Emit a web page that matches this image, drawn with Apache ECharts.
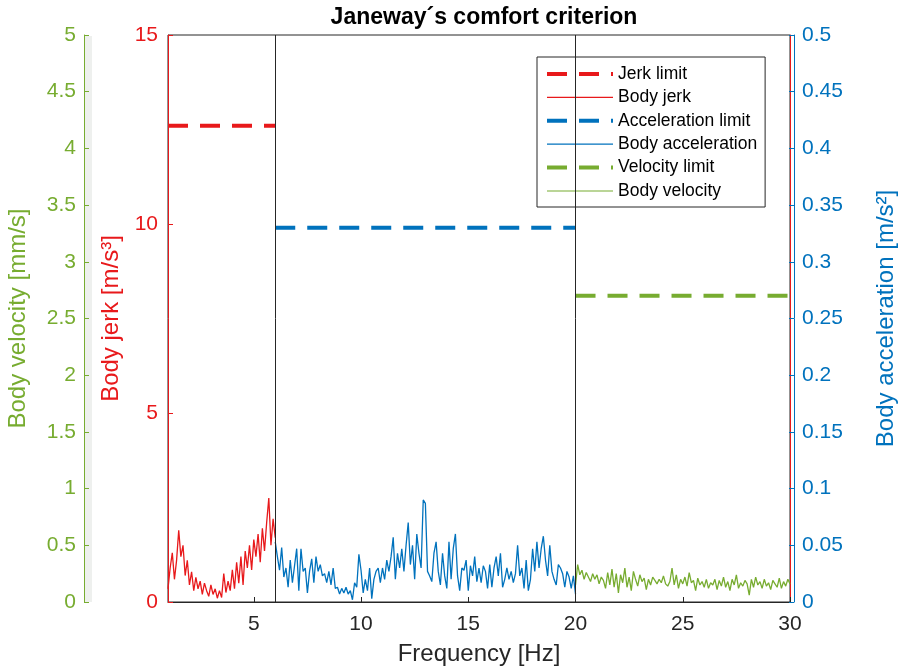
<!DOCTYPE html>
<html>
<head>
<meta charset="utf-8">
<title>Janeway's comfort criterion</title>
<script src="https://cdn.jsdelivr.net/npm/echarts@6/dist/echarts.min.js"></script>
<style>
  html, body { margin: 0; padding: 0; background: #fff; }
  #chart { width: 902px; height: 671px; }
</style>
</head>
<body>
<div id="chart"></div>
<script>
// Janeway comfort criterion: measured body response vs. limits per frequency band
const FONT = '"Liberation Sans", Arial, Helvetica, sans-serif';

// frequency bands [Hz] and sampling step
const jerkBand = [1, 6];
const accBand = [6, 20];
const velBand = [20, 30];
const freqStep = 0.1;

// limits
const jerkLimit = 12.6;   // m/s^3, 1-6 Hz
const accLimit = 0.33;    // m/s^2, 6-20 Hz
const velLimit = 2.7;     // mm/s, 20-60 Hz

// body jerk [m/s^3], 1.0 ... 6.0 Hz
const bodyJerk = [
  0.35, 0.9, 1.3, 0.6, 1.1, 1.9, 1.2, 1.5, 0.7, 1.1,
  0.45, 0.8, 0.3, 0.65, 0.35, 0.55, 0.2, 0.5, 0.3, 0.15,
  0.45, 0.2, 0.35, 0.1, 0.3, 0.12, 0.75, 0.25, 0.55, 0.3,
  0.85, 0.35, 1.05, 0.5, 1.2, 0.45, 1.35, 0.9, 1.5, 0.85,
  1.65, 1.2, 1.8, 1.05, 1.95, 1.35, 2.1, 2.75, 1.5, 2.2,
  1.7
];

// body acceleration [m/s^2], 6.0 ... 20.0 Hz
const bodyAcc = [
  0.053, 0.040, 0.028, 0.048, 0.022, 0.030, 0.013, 0.037, 0.017, 0.032,
  0.047, 0.010, 0.047, 0.027, 0.030, 0.008, 0.027, 0.038, 0.017, 0.040,
  0.027, 0.033, 0.023, 0.025, 0.017, 0.027, 0.015, 0.030, 0.012, 0.013,
  0.007, 0.012, 0.008, 0.013, 0.007, 0.010, 0.002, 0.017, 0.013, 0.042,
  0.028, 0.008, 0.020, 0.010, 0.030, 0.003, 0.020, 0.027, 0.030, 0.017,
  0.030, 0.020, 0.037, 0.027, 0.040, 0.057, 0.020, 0.043, 0.030, 0.047,
  0.027, 0.050, 0.070, 0.033, 0.050, 0.020, 0.060, 0.043, 0.030, 0.090,
  0.087, 0.027, 0.023, 0.018, 0.043, 0.053, 0.027, 0.015, 0.043, 0.023,
  0.012, 0.053, 0.020, 0.047, 0.060, 0.023, 0.010, 0.030, 0.028, 0.037,
  0.010, 0.032, 0.023, 0.040, 0.018, 0.030, 0.017, 0.032, 0.027, 0.012,
  0.033, 0.013, 0.030, 0.040, 0.023, 0.043, 0.013, 0.020, 0.030, 0.020,
  0.027, 0.017, 0.025, 0.050, 0.023, 0.030, 0.012, 0.037, 0.010, 0.020,
  0.047, 0.027, 0.053, 0.030, 0.047, 0.058, 0.037, 0.023, 0.050, 0.027,
  0.020, 0.015, 0.033, 0.030, 0.025, 0.013, 0.027, 0.022, 0.012, 0.023,
  0.007
];

// body velocity [mm/s], 20.0 ... 30.0 Hz
const bodyVel = [
  0.15, 0.33, 0.24, 0.28, 0.20, 0.26, 0.22, 0.18, 0.25, 0.20,
  0.24, 0.16, 0.22, 0.19, 0.12, 0.26, 0.15, 0.29, 0.13, 0.25,
  0.08, 0.24, 0.17, 0.30, 0.13, 0.22, 0.10, 0.27, 0.20, 0.14,
  0.24, 0.18, 0.21, 0.11, 0.20, 0.15, 0.22, 0.19, 0.16, 0.20,
  0.17, 0.23, 0.16, 0.14, 0.18, 0.30, 0.15, 0.24, 0.12, 0.20,
  0.16, 0.22, 0.14, 0.26, 0.17, 0.19, 0.10, 0.21, 0.15, 0.18,
  0.13, 0.20, 0.12, 0.17, 0.15, 0.20, 0.11, 0.19, 0.14, 0.22,
  0.13, 0.18, 0.10, 0.20, 0.15, 0.24, 0.12, 0.17, 0.14, 0.19,
  0.16, 0.06, 0.20, 0.13, 0.22, 0.15, 0.18, 0.12, 0.20, 0.14,
  0.17, 0.11, 0.19, 0.16, 0.13, 0.21, 0.12, 0.18, 0.14, 0.20,
  0.16
];

// x tick labels
const freqTicks = [5, 10, 15, 20, 25, 30];

const RED = '#e8191b';
const BLUE = '#0072bd';
const GREEN = '#77ac30';
const DARK = '#262626';
const LIMIT_DASH = [20, 12];

// pair each sample with its frequency on the band's grid
function withFreq(start, values) {
  return values.map((v, i) => [Math.round((start + i * freqStep) * 100) / 100, v]);
}

const chart = echarts.init(document.getElementById('chart'), null, { renderer: 'canvas' });

const tickLabel = (color) => ({ color: color, fontFamily: FONT, fontSize: 21 });
const nameStyle = (color) => ({ fontFamily: FONT, fontSize: 24, color: color });

function legendEntry(name, color, limit) {
  return {
    name: name,
    itemStyle: { opacity: 0 },
    lineStyle: limit ? { color: color, width: 4, type: LIMIT_DASH } : { color: color, width: 1.2, type: 'solid' }
  };
}

const option = {
  backgroundColor: '#ffffff',
  animation: false,
  title: {
    text: 'Janeway\u00b4s comfort criterion',
    left: 479, top: 1, textAlign: 'center',
    textStyle: { fontFamily: FONT, fontSize: 23, fontWeight: 'bold', color: '#000' }
  },
  grid: {
    left: 168, right: 112, top: 35, bottom: 69,
    outerBoundsMode: 'none',
    show: true, borderColor: DARK, borderWidth: 1, backgroundColor: 'transparent'
  },
  legend: {
    orient: 'vertical',
    left: 537, top: 57,
    padding: [8, 8, 7, 8],
    itemWidth: 66, itemHeight: 14, itemGap: 5.4,
    backgroundColor: '#fff', borderColor: DARK, borderWidth: 1, borderRadius: 0,
    textStyle: { fontFamily: FONT, fontSize: 17.5, color: '#000' },
    data: [
      legendEntry('Jerk limit', RED, true),
      legendEntry('Body jerk', RED, false),
      legendEntry('Acceleration limit', BLUE, true),
      legendEntry('Body acceleration', BLUE, false),
      legendEntry('Velocity limit', GREEN, true),
      legendEntry('Body velocity', GREEN, false)
    ]
  },
  xAxis: {
    type: 'value', min: jerkBand[0], max: velBand[1],
    name: 'Frequency [Hz]', nameLocation: 'middle', nameGap: 40,
    nameTextStyle: nameStyle(DARK),
    axisLine: { lineStyle: { color: DARK, width: 1 } },
    axisTick: { inside: true, length: 5, customValues: freqTicks, lineStyle: { color: DARK } },
    axisLabel: Object.assign({ customValues: freqTicks, margin: 12 }, tickLabel(DARK)),
    splitLine: { show: false }
  },
  yAxis: [
    { // body jerk (left, red)
      type: 'value', position: 'left', min: 0, max: 15, interval: 5,
      name: 'Body jerk [m/s\u00b3]', nameLocation: 'middle', nameGap: 43, nameRotate: 90,
      nameTextStyle: nameStyle(RED),
      axisLine: { show: true, lineStyle: { color: RED, width: 1 } },
      axisTick: { show: true, inside: true, length: 5, lineStyle: { color: RED } },
      axisLabel: Object.assign({ margin: 10 }, tickLabel(RED)),
      splitLine: { show: false }
    },
    { // body acceleration (right, blue)
      type: 'value', position: 'right', offset: 4, min: 0, max: 0.5, interval: 0.05,
      name: 'Body acceleration [m/s\u00b2]', nameLocation: 'middle', nameGap: 80, nameRotate: 90,
      nameTextStyle: nameStyle(BLUE),
      axisLine: { show: true, lineStyle: { color: BLUE, width: 1 } },
      axisTick: { show: true, inside: true, length: 5, lineStyle: { color: BLUE } },
      axisLabel: Object.assign({ margin: 8 }, tickLabel(BLUE)),
      splitLine: { show: false }
    },
    { // body velocity (outer left, green)
      type: 'value', position: 'left', offset: 84, min: 0, max: 5, interval: 0.5,
      name: 'Body velocity [mm/s]', nameLocation: 'middle', nameGap: 54, nameRotate: 90,
      nameTextStyle: nameStyle(GREEN),
      axisLine: { show: true, lineStyle: { color: GREEN, width: 1 } },
      axisTick: { show: true, inside: true, length: 5, lineStyle: { color: GREEN } },
      axisLabel: Object.assign({ margin: 8 }, tickLabel(GREEN)),
      splitLine: { show: false }
    },
    { // right edge of the jerk box
      type: 'value', position: 'right', offset: 0, min: 0, max: 15, interval: 5,
      axisLine: { show: true, lineStyle: { color: RED, width: 1 } },
      axisTick: { show: false }, axisLabel: { show: false }, splitLine: { show: false }
    }
  ],
  graphic: [
    { // shaded strip of the velocity axis
      type: 'rect', left: 85, top: 36, z: -1,
      shape: { width: 7, height: 566 },
      style: { fill: '#eef0ee' }
    }
  ],
  series: [
    {
      name: 'Jerk limit', type: 'line', yAxisIndex: 0, symbol: 'none', z: 3,
      data: [[jerkBand[0], jerkLimit], [jerkBand[1], jerkLimit]],
      lineStyle: { color: RED, width: 4, type: LIMIT_DASH }, itemStyle: { color: RED },
      markLine: {
        silent: true, symbol: 'none', label: { show: false },
        lineStyle: { color: DARK, width: 1, type: 'solid' },
        data: [{ xAxis: accBand[0] }, { xAxis: accBand[1] }]
      }
    },
    {
      name: 'Body jerk', type: 'line', yAxisIndex: 0, symbol: 'none', z: 2,
      data: withFreq(jerkBand[0], bodyJerk),
      lineStyle: { color: RED, width: 1.3 }, itemStyle: { color: RED }
    },
    {
      name: 'Acceleration limit', type: 'line', yAxisIndex: 1, symbol: 'none', z: 3,
      data: [[accBand[0], accLimit], [accBand[1], accLimit]],
      lineStyle: { color: BLUE, width: 4, type: LIMIT_DASH }, itemStyle: { color: BLUE }
    },
    {
      name: 'Body acceleration', type: 'line', yAxisIndex: 1, symbol: 'none', z: 2,
      data: withFreq(accBand[0], bodyAcc),
      lineStyle: { color: BLUE, width: 1.3 }, itemStyle: { color: BLUE }
    },
    {
      name: 'Velocity limit', type: 'line', yAxisIndex: 2, symbol: 'none', z: 3,
      data: [[velBand[0], velLimit], [velBand[1], velLimit]],
      lineStyle: { color: GREEN, width: 4, type: LIMIT_DASH }, itemStyle: { color: GREEN }
    },
    {
      name: 'Body velocity', type: 'line', yAxisIndex: 2, symbol: 'none', z: 2,
      data: withFreq(velBand[0], bodyVel),
      lineStyle: { color: GREEN, width: 1.3 }, itemStyle: { color: GREEN }
    }
  ]
};

chart.setOption(option);
</script>
</body>
</html>
